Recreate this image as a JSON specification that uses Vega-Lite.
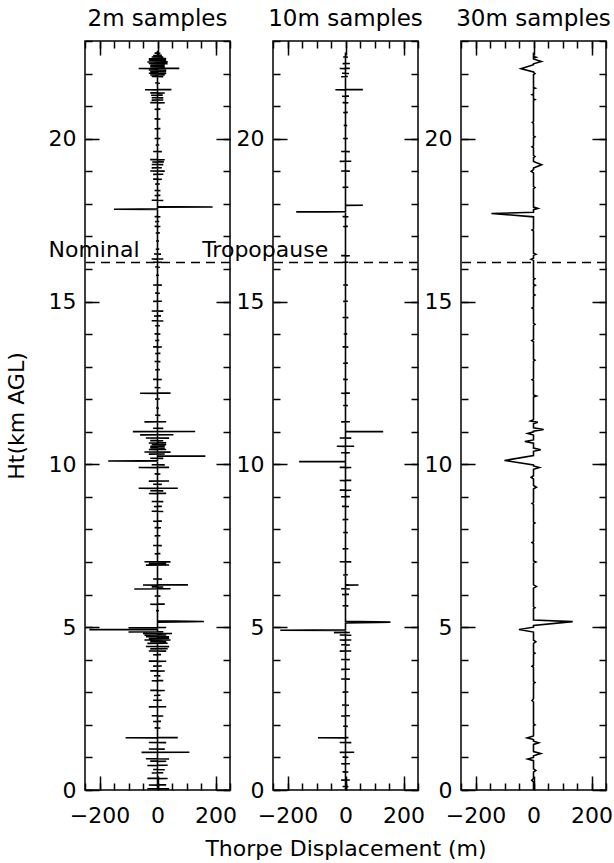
{
"$schema": "https://vega.github.io/schema/vega-lite/v6.json",
"padding": {"left": 4, "top": 7, "right": 0, "bottom": 0},
"bounds": "flush",
"spacing": 43,
"config": {
  "font": "DejaVu Sans",
  "view": {"stroke": "black", "strokeWidth": 1.5},
  "axis": {"labelFont": "DejaVu Sans", "labelFontSize": 22, "labelColor": "black", "titleFont": "DejaVu Sans", "titleFontSize": 22, "titleFontWeight": "normal", "titleColor": "black", "tickColor": "black", "tickWidth": 1.5, "domain": false, "grid": false, "labelOverlap": false, "labelFlush": false, "labelBound": false},
  "title": {"font": "DejaVu Sans", "fontSize": 23, "fontWeight": "normal", "color": "black", "offset": 9, "frame": "group", "anchor": "middle"}
},
"datasets": {
"d2": [
{"h":0,"d":0},
{"h":0.03,"d":0},{"h":0.034,"d":40},{"h":0.038,"d":-35},{"h":0.042,"d":0},
{"h":0.15,"d":0},{"h":0.154,"d":-30},{"h":0.158,"d":30},{"h":0.162,"d":0},
{"h":0.35,"d":0},{"h":0.354,"d":35},{"h":0.358,"d":-35},{"h":0.362,"d":0},
{"h":0.52,"d":0},{"h":0.524,"d":-20},{"h":0.528,"d":20},{"h":0.532,"d":0},
{"h":0.62,"d":0},{"h":0.624,"d":25},{"h":0.628,"d":-15},{"h":0.632,"d":0},
{"h":0.75,"d":0},{"h":0.754,"d":-35},{"h":0.758,"d":35},{"h":0.762,"d":0},
{"h":0.88,"d":0},{"h":0.884,"d":30},{"h":0.888,"d":-25},{"h":0.892,"d":0},
{"h":0.95,"d":0},{"h":0.954,"d":40},{"h":0.958,"d":-40},{"h":0.962,"d":0},
{"h":1.15,"d":0},{"h":1.154,"d":-55},{"h":1.158,"d":110},{"h":1.162,"d":0},
{"h":1.25,"d":0},{"h":1.254,"d":25},{"h":1.258,"d":-30},{"h":1.262,"d":0},
{"h":1.45,"d":0},{"h":1.454,"d":30},{"h":1.458,"d":-30},{"h":1.462,"d":0},
{"h":1.6,"d":0},{"h":1.604,"d":-110},{"h":1.608,"d":70},{"h":1.612,"d":0},
{"h":1.9,"d":0},{"h":1.904,"d":10},{"h":1.908,"d":-10},{"h":1.912,"d":0},
{"h":2.1,"d":0},{"h":2.104,"d":-15},{"h":2.108,"d":12},{"h":2.112,"d":0},
{"h":2.27,"d":0},{"h":2.274,"d":20},{"h":2.278,"d":-20},{"h":2.282,"d":0},
{"h":2.55,"d":0},{"h":2.554,"d":-30},{"h":2.558,"d":30},{"h":2.562,"d":0},
{"h":2.75,"d":0},{"h":2.754,"d":15},{"h":2.758,"d":-15},{"h":2.762,"d":0},
{"h":2.9,"d":0},{"h":2.904,"d":-12},{"h":2.908,"d":10},{"h":2.912,"d":0},
{"h":3.05,"d":0},{"h":3.054,"d":25},{"h":3.058,"d":-25},{"h":3.062,"d":0},
{"h":3.35,"d":0},{"h":3.354,"d":-20},{"h":3.358,"d":20},{"h":3.362,"d":0},
{"h":3.5,"d":0},{"h":3.504,"d":10},{"h":3.508,"d":-12},{"h":3.512,"d":0},
{"h":3.65,"d":0},{"h":3.654,"d":25},{"h":3.658,"d":-25},{"h":3.662,"d":0},
{"h":3.8,"d":0},{"h":3.804,"d":-15},{"h":3.808,"d":15},{"h":3.812,"d":0},
{"h":3.95,"d":0},{"h":3.954,"d":30},{"h":3.958,"d":-30},{"h":3.962,"d":0},
{"h":4.15,"d":0},{"h":4.154,"d":-15},{"h":4.158,"d":12},{"h":4.162,"d":0},
{"h":4.26,"d":0},{"h":4.264,"d":30},{"h":4.268,"d":-30},{"h":4.272,"d":0},
{"h":4.33,"d":0},{"h":4.334,"d":-25},{"h":4.338,"d":35},{"h":4.342,"d":0},
{"h":4.4,"d":0},{"h":4.404,"d":40},{"h":4.408,"d":-40},{"h":4.412,"d":0},
{"h":4.5,"d":0},{"h":4.504,"d":-35},{"h":4.508,"d":35},{"h":4.512,"d":0},
{"h":4.55,"d":0},{"h":4.554,"d":30},{"h":4.558,"d":-25},{"h":4.562,"d":0},
{"h":4.6,"d":0},{"h":4.604,"d":45},{"h":4.608,"d":-45},{"h":4.612,"d":0},
{"h":4.65,"d":0},{"h":4.654,"d":-30},{"h":4.658,"d":40},{"h":4.662,"d":0},
{"h":4.7,"d":0},{"h":4.704,"d":40},{"h":4.708,"d":-40},{"h":4.712,"d":0},
{"h":4.75,"d":0},{"h":4.754,"d":-45},{"h":4.758,"d":30},{"h":4.762,"d":0},
{"h":4.8,"d":0},{"h":4.804,"d":50},{"h":4.808,"d":-50},{"h":4.812,"d":0},
{"h":4.85,"d":0},{"h":4.854,"d":-100},{"h":4.858,"d":20},{"h":4.862,"d":0},
{"h":4.92,"d":0},{"h":4.924,"d":-235},{"h":4.928,"d":-100},{"h":4.932,"d":0},
{"h":4.98,"d":0},{"h":4.984,"d":-100},{"h":4.988,"d":30},{"h":4.992,"d":0},
{"h":5.15,"d":0},{"h":5.165,"d":120},{"h":5.175,"d":160},{"h":5.185,"d":60},{"h":5.195,"d":0},
{"h":5.5,"d":0},{"h":5.504,"d":5},{"h":5.508,"d":-5},{"h":5.512,"d":0},
{"h":5.7,"d":0},{"h":5.704,"d":-25},{"h":5.708,"d":25},{"h":5.712,"d":0},
{"h":5.95,"d":0},{"h":5.954,"d":10},{"h":5.958,"d":-10},{"h":5.962,"d":0},
{"h":6.17,"d":0},{"h":6.174,"d":-80},{"h":6.178,"d":45},{"h":6.182,"d":0},
{"h":6.23,"d":0},{"h":6.234,"d":20},{"h":6.238,"d":-20},{"h":6.242,"d":0},
{"h":6.29,"d":0},{"h":6.294,"d":-50},{"h":6.298,"d":105},{"h":6.302,"d":0},
{"h":6.47,"d":0},{"h":6.474,"d":15},{"h":6.478,"d":-15},{"h":6.482,"d":0},
{"h":6.9,"d":0},{"h":6.904,"d":-40},{"h":6.908,"d":40},{"h":6.912,"d":0},
{"h":6.95,"d":0},{"h":6.954,"d":30},{"h":6.958,"d":-30},{"h":6.962,"d":0},
{"h":7.0,"d":0},{"h":7.004,"d":45},{"h":7.008,"d":-45},{"h":7.012,"d":0},
{"h":7.25,"d":0},{"h":7.254,"d":-10},{"h":7.258,"d":10},{"h":7.262,"d":0},
{"h":7.5,"d":0},{"h":7.504,"d":15},{"h":7.508,"d":-15},{"h":7.512,"d":0},
{"h":7.8,"d":0},{"h":7.804,"d":-10},{"h":7.808,"d":10},{"h":7.812,"d":0},
{"h":8.05,"d":0},{"h":8.054,"d":12},{"h":8.058,"d":-10},{"h":8.062,"d":0},
{"h":8.25,"d":0},{"h":8.254,"d":-15},{"h":8.258,"d":15},{"h":8.262,"d":0},
{"h":8.55,"d":0},{"h":8.554,"d":20},{"h":8.558,"d":-20},{"h":8.562,"d":0},
{"h":8.7,"d":0},{"h":8.704,"d":-12},{"h":8.708,"d":15},{"h":8.712,"d":0},
{"h":8.85,"d":0},{"h":8.854,"d":20},{"h":8.858,"d":-20},{"h":8.862,"d":0},
{"h":9.1,"d":0},{"h":9.104,"d":-30},{"h":9.108,"d":30},{"h":9.112,"d":0},
{"h":9.18,"d":0},{"h":9.184,"d":20},{"h":9.188,"d":-25},{"h":9.192,"d":0},
{"h":9.26,"d":0},{"h":9.264,"d":-65},{"h":9.268,"d":70},{"h":9.272,"d":0},
{"h":9.38,"d":0},{"h":9.384,"d":15},{"h":9.388,"d":-15},{"h":9.392,"d":0},
{"h":9.48,"d":0},{"h":9.484,"d":-30},{"h":9.488,"d":40},{"h":9.492,"d":0},
{"h":9.7,"d":0},{"h":9.704,"d":10},{"h":9.708,"d":-10},{"h":9.712,"d":0},
{"h":9.9,"d":0},{"h":9.904,"d":-65},{"h":9.908,"d":40},{"h":9.912,"d":0},
{"h":9.98,"d":0},{"h":9.984,"d":25},{"h":9.988,"d":-20},{"h":9.992,"d":0},
{"h":10.1,"d":0},{"h":10.104,"d":-170},{"h":10.108,"d":-60},{"h":10.112,"d":0},
{"h":10.18,"d":0},{"h":10.184,"d":20},{"h":10.188,"d":-25},{"h":10.192,"d":0},
{"h":10.25,"d":0},{"h":10.254,"d":165},{"h":10.258,"d":60},{"h":10.262,"d":0},
{"h":10.31,"d":0},{"h":10.314,"d":-30},{"h":10.318,"d":25},{"h":10.322,"d":0},
{"h":10.37,"d":0},{"h":10.374,"d":45},{"h":10.378,"d":-45},{"h":10.382,"d":0},
{"h":10.45,"d":0},{"h":10.454,"d":-30},{"h":10.458,"d":30},{"h":10.462,"d":0},
{"h":10.5,"d":0},{"h":10.504,"d":25},{"h":10.508,"d":-25},{"h":10.512,"d":0},
{"h":10.55,"d":0},{"h":10.554,"d":-25},{"h":10.558,"d":25},{"h":10.562,"d":0},
{"h":10.6,"d":0},{"h":10.604,"d":30},{"h":10.608,"d":-20},{"h":10.612,"d":0},
{"h":10.65,"d":0},{"h":10.654,"d":-30},{"h":10.658,"d":30},{"h":10.662,"d":0},
{"h":10.72,"d":0},{"h":10.724,"d":20},{"h":10.728,"d":-25},{"h":10.732,"d":0},
{"h":10.8,"d":0},{"h":10.804,"d":40},{"h":10.808,"d":-40},{"h":10.812,"d":0},
{"h":10.9,"d":0},{"h":10.904,"d":-60},{"h":10.908,"d":55},{"h":10.912,"d":0},
{"h":11.0,"d":0},{"h":11.004,"d":-85},{"h":11.008,"d":130},{"h":11.012,"d":0},
{"h":11.1,"d":0},{"h":11.104,"d":20},{"h":11.108,"d":-15},{"h":11.112,"d":0},
{"h":11.3,"d":0},{"h":11.304,"d":-45},{"h":11.308,"d":30},{"h":11.312,"d":0},
{"h":11.5,"d":0},{"h":11.504,"d":10},{"h":11.508,"d":-8},{"h":11.512,"d":0},
{"h":11.72,"d":0},{"h":11.724,"d":5},{"h":11.728,"d":-5},{"h":11.732,"d":0},
{"h":12.0,"d":0},{"h":12.004,"d":-8},{"h":12.008,"d":8},{"h":12.012,"d":0},
{"h":12.18,"d":0},{"h":12.184,"d":-60},{"h":12.188,"d":45},{"h":12.192,"d":0},
{"h":12.35,"d":0},{"h":12.354,"d":10},{"h":12.358,"d":-10},{"h":12.362,"d":0},
{"h":12.6,"d":0},{"h":12.604,"d":15},{"h":12.608,"d":-15},{"h":12.612,"d":0},
{"h":12.9,"d":0},{"h":12.904,"d":-8},{"h":12.908,"d":8},{"h":12.912,"d":0},
{"h":13.15,"d":0},{"h":13.154,"d":10},{"h":13.158,"d":-10},{"h":13.162,"d":0},
{"h":13.4,"d":0},{"h":13.404,"d":-8},{"h":13.408,"d":10},{"h":13.412,"d":0},
{"h":13.6,"d":0},{"h":13.604,"d":15},{"h":13.608,"d":-15},{"h":13.612,"d":0},
{"h":13.8,"d":0},{"h":13.804,"d":-8},{"h":13.808,"d":6},{"h":13.812,"d":0},
{"h":14.0,"d":0},{"h":14.004,"d":10},{"h":14.008,"d":-10},{"h":14.012,"d":0},
{"h":14.25,"d":0},{"h":14.254,"d":-8},{"h":14.258,"d":8},{"h":14.262,"d":0},
{"h":14.4,"d":0},{"h":14.404,"d":20},{"h":14.408,"d":-20},{"h":14.412,"d":0},
{"h":14.55,"d":0},{"h":14.554,"d":-12},{"h":14.558,"d":12},{"h":14.562,"d":0},
{"h":14.7,"d":0},{"h":14.704,"d":20},{"h":14.708,"d":-20},{"h":14.712,"d":0},
{"h":15.0,"d":0},{"h":15.004,"d":-15},{"h":15.008,"d":15},{"h":15.012,"d":0},
{"h":15.25,"d":0},{"h":15.254,"d":8},{"h":15.258,"d":-8},{"h":15.262,"d":0},
{"h":15.5,"d":0},{"h":15.504,"d":15},{"h":15.508,"d":-15},{"h":15.512,"d":0},
{"h":15.8,"d":0},{"h":15.804,"d":-5},{"h":15.808,"d":5},{"h":15.812,"d":0},
{"h":16.05,"d":0},{"h":16.054,"d":8},{"h":16.058,"d":-8},{"h":16.062,"d":0},
{"h":16.2,"d":0},{"h":16.204,"d":15},{"h":16.208,"d":-15},{"h":16.212,"d":0},
{"h":16.3,"d":0},{"h":16.304,"d":-20},{"h":16.308,"d":20},{"h":16.312,"d":0},
{"h":16.45,"d":0},{"h":16.454,"d":12},{"h":16.458,"d":-12},{"h":16.462,"d":0},
{"h":16.6,"d":0},{"h":16.604,"d":-6},{"h":16.608,"d":6},{"h":16.612,"d":0},
{"h":16.85,"d":0},{"h":16.854,"d":5},{"h":16.858,"d":-5},{"h":16.862,"d":0},
{"h":17.1,"d":0},{"h":17.104,"d":-6},{"h":17.108,"d":8},{"h":17.112,"d":0},
{"h":17.3,"d":0},{"h":17.304,"d":10},{"h":17.308,"d":-10},{"h":17.312,"d":0},
{"h":17.45,"d":0},{"h":17.454,"d":-8},{"h":17.458,"d":6},{"h":17.462,"d":0},
{"h":17.6,"d":0},{"h":17.604,"d":10},{"h":17.608,"d":-10},{"h":17.612,"d":0},
{"h":17.83,"d":0},{"h":17.834,"d":-150},{"h":17.838,"d":-60},{"h":17.842,"d":0},
{"h":17.9,"d":0},{"h":17.904,"d":190},{"h":17.908,"d":80},{"h":17.912,"d":0},
{"h":18.1,"d":0},{"h":18.104,"d":20},{"h":18.108,"d":-20},{"h":18.112,"d":0},
{"h":18.25,"d":0},{"h":18.254,"d":-10},{"h":18.258,"d":10},{"h":18.262,"d":0},
{"h":18.4,"d":0},{"h":18.404,"d":10},{"h":18.408,"d":-10},{"h":18.412,"d":0},
{"h":18.6,"d":0},{"h":18.604,"d":-8},{"h":18.608,"d":8},{"h":18.612,"d":0},
{"h":18.75,"d":0},{"h":18.754,"d":15},{"h":18.758,"d":-15},{"h":18.762,"d":0},
{"h":18.9,"d":0},{"h":18.904,"d":-15},{"h":18.908,"d":20},{"h":18.912,"d":0},
{"h":19.0,"d":0},{"h":19.004,"d":25},{"h":19.008,"d":-25},{"h":19.012,"d":0},
{"h":19.1,"d":0},{"h":19.104,"d":-20},{"h":19.108,"d":15},{"h":19.112,"d":0},
{"h":19.2,"d":0},{"h":19.204,"d":20},{"h":19.208,"d":-20},{"h":19.212,"d":0},
{"h":19.28,"d":0},{"h":19.284,"d":-18},{"h":19.288,"d":22},{"h":19.292,"d":0},
{"h":19.35,"d":0},{"h":19.354,"d":25},{"h":19.358,"d":-25},{"h":19.362,"d":0},
{"h":19.6,"d":0},{"h":19.604,"d":15},{"h":19.608,"d":-15},{"h":19.612,"d":0},
{"h":19.8,"d":0},{"h":19.804,"d":-6},{"h":19.808,"d":6},{"h":19.812,"d":0},
{"h":20.0,"d":0},{"h":20.004,"d":10},{"h":20.008,"d":-10},{"h":20.012,"d":0},
{"h":20.3,"d":0},{"h":20.304,"d":-10},{"h":20.308,"d":10},{"h":20.312,"d":0},
{"h":20.6,"d":0},{"h":20.604,"d":10},{"h":20.608,"d":-10},{"h":20.612,"d":0},
{"h":20.9,"d":0},{"h":20.904,"d":-10},{"h":20.908,"d":10},{"h":20.912,"d":0},
{"h":21.1,"d":0},{"h":21.104,"d":25},{"h":21.108,"d":-25},{"h":21.112,"d":0},
{"h":21.18,"d":0},{"h":21.184,"d":-20},{"h":21.188,"d":20},{"h":21.192,"d":0},
{"h":21.25,"d":0},{"h":21.254,"d":20},{"h":21.258,"d":-20},{"h":21.262,"d":0},
{"h":21.33,"d":0},{"h":21.334,"d":-22},{"h":21.338,"d":18},{"h":21.342,"d":0},
{"h":21.4,"d":0},{"h":21.404,"d":25},{"h":21.408,"d":-25},{"h":21.412,"d":0},
{"h":21.5,"d":0},{"h":21.504,"d":-43},{"h":21.508,"d":48},{"h":21.512,"d":0},
{"h":21.7,"d":0},{"h":21.704,"d":8},{"h":21.708,"d":-8},{"h":21.712,"d":0},
{"h":21.9,"d":0},{"h":21.904,"d":20},{"h":21.908,"d":-20},{"h":21.912,"d":0},
{"h":21.95,"d":0},{"h":21.954,"d":-25},{"h":21.958,"d":25},{"h":21.962,"d":0},
{"h":22.0,"d":0},{"h":22.004,"d":30},{"h":22.008,"d":-30},{"h":22.012,"d":0},
{"h":22.05,"d":0},{"h":22.054,"d":-25},{"h":22.058,"d":30},{"h":22.062,"d":0},
{"h":22.1,"d":0},{"h":22.104,"d":30},{"h":22.108,"d":-30},{"h":22.112,"d":0},
{"h":22.15,"d":0},{"h":22.154,"d":-65},{"h":22.158,"d":75},{"h":22.162,"d":0},
{"h":22.2,"d":0},{"h":22.204,"d":25},{"h":22.208,"d":-25},{"h":22.212,"d":0},
{"h":22.25,"d":0},{"h":22.254,"d":-25},{"h":22.258,"d":25},{"h":22.262,"d":0},
{"h":22.3,"d":0},{"h":22.304,"d":35},{"h":22.308,"d":-30},{"h":22.312,"d":0},
{"h":22.35,"d":0},{"h":22.354,"d":-35},{"h":22.358,"d":35},{"h":22.362,"d":0},
{"h":22.4,"d":0},{"h":22.404,"d":30},{"h":22.408,"d":-30},{"h":22.412,"d":0},
{"h":22.45,"d":0},{"h":22.454,"d":-30},{"h":22.458,"d":30},{"h":22.462,"d":0},
{"h":22.5,"d":0},{"h":22.504,"d":20},{"h":22.508,"d":-20},{"h":22.512,"d":0},
{"h":22.55,"d":0},{"h":22.554,"d":-15},{"h":22.558,"d":15},{"h":22.562,"d":0},
{"h":22.62,"d":0},{"h":22.624,"d":10},{"h":22.628,"d":-10},{"h":22.632,"d":0},
{"h":22.7,"d":0}
],
"d10": [
{"h":0,"d":0},
{"h":0.1,"d":0},{"h":0.104,"d":10},{"h":0.108,"d":-10},{"h":0.112,"d":0},
{"h":0.3,"d":0},{"h":0.304,"d":-15},{"h":0.308,"d":15},{"h":0.312,"d":0},
{"h":0.55,"d":0},{"h":0.554,"d":10},{"h":0.558,"d":-10},{"h":0.562,"d":0},
{"h":0.8,"d":0},{"h":0.804,"d":-15},{"h":0.808,"d":15},{"h":0.812,"d":0},
{"h":1.0,"d":0},{"h":1.004,"d":10},{"h":1.008,"d":-10},{"h":1.012,"d":0},
{"h":1.15,"d":0},{"h":1.154,"d":-20},{"h":1.158,"d":30},{"h":1.162,"d":0},
{"h":1.45,"d":0},{"h":1.454,"d":20},{"h":1.458,"d":-20},{"h":1.462,"d":0},
{"h":1.6,"d":0},{"h":1.604,"d":-95},{"h":1.608,"d":10},{"h":1.612,"d":0},
{"h":1.95,"d":0},{"h":1.954,"d":8},{"h":1.958,"d":-8},{"h":1.962,"d":0},
{"h":2.27,"d":0},{"h":2.274,"d":-15},{"h":2.278,"d":15},{"h":2.282,"d":0},
{"h":2.6,"d":0},{"h":2.604,"d":12},{"h":2.608,"d":-12},{"h":2.612,"d":0},
{"h":3.0,"d":0},{"h":3.004,"d":-10},{"h":3.008,"d":10},{"h":3.012,"d":0},
{"h":3.4,"d":0},{"h":3.404,"d":15},{"h":3.408,"d":-15},{"h":3.412,"d":0},
{"h":3.7,"d":0},{"h":3.704,"d":-15},{"h":3.708,"d":15},{"h":3.712,"d":0},
{"h":4.0,"d":0},{"h":4.004,"d":15},{"h":4.008,"d":-15},{"h":4.012,"d":0},
{"h":4.26,"d":0},{"h":4.264,"d":-20},{"h":4.268,"d":20},{"h":4.272,"d":0},
{"h":4.45,"d":0},{"h":4.454,"d":15},{"h":4.458,"d":-15},{"h":4.462,"d":0},
{"h":4.6,"d":0},{"h":4.604,"d":-20},{"h":4.608,"d":20},{"h":4.612,"d":0},
{"h":4.75,"d":0},{"h":4.754,"d":20},{"h":4.758,"d":-20},{"h":4.762,"d":0},
{"h":4.83,"d":0},{"h":4.834,"d":-40},{"h":4.838,"d":15},{"h":4.842,"d":0},
{"h":4.9,"d":0},{"h":4.904,"d":-225},{"h":4.908,"d":-120},{"h":4.912,"d":0},
{"h":5.13,"d":0},{"h":5.145,"d":110},{"h":5.155,"d":155},{"h":5.17,"d":50},{"h":5.18,"d":0},
{"h":5.65,"d":0},{"h":5.654,"d":10},{"h":5.658,"d":-10},{"h":5.662,"d":0},
{"h":6.0,"d":0},{"h":6.004,"d":-12},{"h":6.008,"d":12},{"h":6.012,"d":0},
{"h":6.17,"d":0},{"h":6.174,"d":15},{"h":6.178,"d":-15},{"h":6.182,"d":0},
{"h":6.29,"d":0},{"h":6.294,"d":45},{"h":6.298,"d":10},{"h":6.302,"d":0},
{"h":6.6,"d":0},{"h":6.604,"d":-8},{"h":6.608,"d":8},{"h":6.612,"d":0},
{"h":7.0,"d":0},{"h":7.004,"d":20},{"h":7.008,"d":-20},{"h":7.012,"d":0},
{"h":7.4,"d":0},{"h":7.404,"d":-10},{"h":7.408,"d":10},{"h":7.412,"d":0},
{"h":7.9,"d":0},{"h":7.904,"d":8},{"h":7.908,"d":-8},{"h":7.912,"d":0},
{"h":8.3,"d":0},{"h":8.304,"d":-10},{"h":8.308,"d":10},{"h":8.312,"d":0},
{"h":8.7,"d":0},{"h":8.704,"d":12},{"h":8.708,"d":-12},{"h":8.712,"d":0},
{"h":9.0,"d":0},{"h":9.004,"d":-15},{"h":9.008,"d":15},{"h":9.012,"d":0},
{"h":9.2,"d":0},{"h":9.204,"d":20},{"h":9.208,"d":-20},{"h":9.212,"d":0},
{"h":9.5,"d":0},{"h":9.504,"d":-20},{"h":9.508,"d":20},{"h":9.512,"d":0},
{"h":9.9,"d":0},{"h":9.904,"d":20},{"h":9.908,"d":-20},{"h":9.912,"d":0},
{"h":10.08,"d":0},{"h":10.084,"d":-160},{"h":10.088,"d":-60},{"h":10.092,"d":0},
{"h":10.35,"d":0},{"h":10.354,"d":15},{"h":10.358,"d":-15},{"h":10.362,"d":0},
{"h":10.55,"d":0},{"h":10.554,"d":-30},{"h":10.558,"d":30},{"h":10.562,"d":0},
{"h":10.8,"d":0},{"h":10.804,"d":20},{"h":10.808,"d":-20},{"h":10.812,"d":0},
{"h":11.0,"d":0},{"h":11.004,"d":130},{"h":11.008,"d":40},{"h":11.012,"d":0},
{"h":11.3,"d":0},{"h":11.304,"d":-15},{"h":11.308,"d":15},{"h":11.312,"d":0},
{"h":11.8,"d":0},{"h":11.804,"d":8},{"h":11.808,"d":-8},{"h":11.812,"d":0},
{"h":12.18,"d":0},{"h":12.184,"d":-15},{"h":12.188,"d":15},{"h":12.192,"d":0},
{"h":12.6,"d":0},{"h":12.604,"d":8},{"h":12.608,"d":-8},{"h":12.612,"d":0},
{"h":13.1,"d":0},{"h":13.104,"d":-8},{"h":13.108,"d":8},{"h":13.112,"d":0},
{"h":13.6,"d":0},{"h":13.604,"d":10},{"h":13.608,"d":-10},{"h":13.612,"d":0},
{"h":14.0,"d":0},{"h":14.004,"d":-6},{"h":14.008,"d":6},{"h":14.012,"d":0},
{"h":14.5,"d":0},{"h":14.504,"d":10},{"h":14.508,"d":-10},{"h":14.512,"d":0},
{"h":15.0,"d":0},{"h":15.004,"d":-8},{"h":15.008,"d":8},{"h":15.012,"d":0},
{"h":15.5,"d":0},{"h":15.504,"d":8},{"h":15.508,"d":-8},{"h":15.512,"d":0},
{"h":16.2,"d":0},{"h":16.204,"d":-10},{"h":16.208,"d":10},{"h":16.212,"d":0},
{"h":16.4,"d":0},{"h":16.404,"d":15},{"h":16.408,"d":-15},{"h":16.412,"d":0},
{"h":17.3,"d":0},{"h":17.304,"d":-8},{"h":17.308,"d":8},{"h":17.312,"d":0},
{"h":17.6,"d":0},{"h":17.604,"d":10},{"h":17.608,"d":-10},{"h":17.612,"d":0},
{"h":17.75,"d":0},{"h":17.754,"d":-170},{"h":17.758,"d":-70},{"h":17.762,"d":0},
{"h":17.95,"d":0},{"h":17.954,"d":60},{"h":17.958,"d":20},{"h":17.962,"d":0},
{"h":18.5,"d":0},{"h":18.504,"d":-10},{"h":18.508,"d":10},{"h":18.512,"d":0},
{"h":19.0,"d":0},{"h":19.004,"d":15},{"h":19.008,"d":-15},{"h":19.012,"d":0},
{"h":19.3,"d":0},{"h":19.304,"d":-20},{"h":19.308,"d":20},{"h":19.312,"d":0},
{"h":19.6,"d":0},{"h":19.604,"d":15},{"h":19.608,"d":-15},{"h":19.612,"d":0},
{"h":20.0,"d":0},{"h":20.004,"d":-8},{"h":20.008,"d":8},{"h":20.012,"d":0},
{"h":20.4,"d":0},{"h":20.404,"d":6},{"h":20.408,"d":-6},{"h":20.412,"d":0},
{"h":20.8,"d":0},{"h":20.804,"d":-8},{"h":20.808,"d":8},{"h":20.812,"d":0},
{"h":21.1,"d":0},{"h":21.104,"d":10},{"h":21.108,"d":-10},{"h":21.112,"d":0},
{"h":21.3,"d":0},{"h":21.304,"d":-12},{"h":21.308,"d":12},{"h":21.312,"d":0},
{"h":21.5,"d":0},{"h":21.504,"d":-35},{"h":21.508,"d":60},{"h":21.512,"d":0},
{"h":21.9,"d":0},{"h":21.904,"d":-15},{"h":21.908,"d":8},{"h":21.912,"d":0},
{"h":22.0,"d":0},{"h":22.004,"d":12},{"h":22.008,"d":-12},{"h":22.012,"d":0},
{"h":22.15,"d":0},{"h":22.154,"d":-20},{"h":22.158,"d":15},{"h":22.162,"d":0},
{"h":22.3,"d":0},{"h":22.304,"d":-10},{"h":22.308,"d":15},{"h":22.312,"d":0},
{"h":22.5,"d":0},{"h":22.504,"d":8},{"h":22.508,"d":-8},{"h":22.512,"d":0},
{"h":22.65,"d":0}
],
"d30": [
{"h":0,"d":0},
{"h":0.25,"d":0},{"h":0.3,"d":-6},{"h":0.35,"d":0},
{"h":0.55,"d":0},{"h":0.6,"d":8},{"h":0.65,"d":0},
{"h":0.9,"d":0},{"h":0.95,"d":-20},{"h":1.0,"d":0},
{"h":1.05,"d":0},{"h":1.12,"d":25},{"h":1.18,"d":0},
{"h":1.4,"d":0},{"h":1.45,"d":18},{"h":1.5,"d":0},
{"h":1.55,"d":0},{"h":1.6,"d":-22},{"h":1.66,"d":0},
{"h":1.98,"d":0},{"h":2.0,"d":5},{"h":2.03,"d":0},
{"h":2.7,"d":0},{"h":2.75,"d":-5},{"h":2.8,"d":0},
{"h":3.27,"d":0},{"h":3.3,"d":5},{"h":3.33,"d":0},
{"h":3.77,"d":0},{"h":3.8,"d":-5},{"h":3.83,"d":0},
{"h":4.17,"d":0},{"h":4.2,"d":5},{"h":4.23,"d":0},
{"h":4.5,"d":0},{"h":4.55,"d":8},{"h":4.6,"d":0},
{"h":4.85,"d":0},{"h":4.93,"d":-50},{"h":5.0,"d":0},
{"h":5.05,"d":0},{"h":5.17,"d":135},{"h":5.22,"d":0},
{"h":5.57,"d":0},{"h":5.6,"d":5},{"h":5.63,"d":0},
{"h":6.2,"d":0},{"h":6.25,"d":10},{"h":6.3,"d":0},
{"h":6.97,"d":0},{"h":7.0,"d":8},{"h":7.03,"d":0},
{"h":7.57,"d":0},{"h":7.6,"d":-5},{"h":7.63,"d":0},
{"h":8.17,"d":0},{"h":8.2,"d":5},{"h":8.23,"d":0},
{"h":8.77,"d":0},{"h":8.8,"d":-5},{"h":8.83,"d":0},
{"h":9.25,"d":0},{"h":9.3,"d":10},{"h":9.35,"d":0},
{"h":9.55,"d":0},{"h":9.6,"d":-8},{"h":9.65,"d":0},
{"h":9.85,"d":0},{"h":9.9,"d":20},{"h":9.95,"d":0},
{"h":9.98,"d":0},{"h":10.12,"d":-100},{"h":10.27,"d":0},
{"h":10.4,"d":0},{"h":10.45,"d":25},{"h":10.5,"d":0},
{"h":10.65,"d":0},{"h":10.7,"d":-30},{"h":10.75,"d":0},
{"h":10.9,"d":0},{"h":10.95,"d":-20},{"h":11.0,"d":0},
{"h":11.02,"d":0},{"h":11.07,"d":35},{"h":11.12,"d":0},
{"h":11.25,"d":0},{"h":11.29,"d":15},{"h":11.33,"d":-10},{"h":11.37,"d":0},
{"h":12.07,"d":0},{"h":12.1,"d":10},{"h":12.13,"d":0},
{"h":12.57,"d":0},{"h":12.6,"d":-5},{"h":12.63,"d":0},
{"h":13.17,"d":0},{"h":13.2,"d":5},{"h":13.23,"d":0},
{"h":13.77,"d":0},{"h":13.8,"d":-6},{"h":13.83,"d":0},
{"h":14.27,"d":0},{"h":14.3,"d":5},{"h":14.33,"d":0},
{"h":14.77,"d":0},{"h":14.8,"d":-5},{"h":14.83,"d":0},
{"h":15.17,"d":0},{"h":15.2,"d":5},{"h":15.23,"d":0},
{"h":15.47,"d":0},{"h":15.5,"d":6},{"h":15.53,"d":0},
{"h":15.67,"d":0},{"h":15.7,"d":5},{"h":15.73,"d":0},
{"h":16.27,"d":0},{"h":16.3,"d":-8},{"h":16.33,"d":0},
{"h":16.42,"d":0},{"h":16.45,"d":8},{"h":16.48,"d":0},
{"h":17.17,"d":0},{"h":17.2,"d":-5},{"h":17.23,"d":0},
{"h":17.6,"d":0},{"h":17.705,"d":-145},{"h":17.74,"d":0},
{"h":17.82,"d":0},{"h":17.86,"d":15},{"h":17.9,"d":0},
{"h":18.47,"d":0},{"h":18.5,"d":5},{"h":18.53,"d":0},
{"h":18.95,"d":0},{"h":19.0,"d":-8},{"h":19.05,"d":0},
{"h":19.1,"d":0},{"h":19.2,"d":28},{"h":19.3,"d":0},
{"h":19.42,"d":0},{"h":19.45,"d":5},{"h":19.48,"d":0},
{"h":19.72,"d":0},{"h":19.75,"d":-5},{"h":19.78,"d":0},
{"h":20.03,"d":0},{"h":20.06,"d":5},{"h":20.09,"d":0},
{"h":20.47,"d":0},{"h":20.5,"d":-4},{"h":20.53,"d":0},
{"h":21.18,"d":0},{"h":21.2,"d":5},{"h":21.22,"d":0},
{"h":21.33,"d":0},{"h":21.35,"d":-5},{"h":21.37,"d":0},
{"h":21.53,"d":0},{"h":21.55,"d":6},{"h":21.57,"d":0},
{"h":21.97,"d":0},{"h":22.0,"d":5},{"h":22.03,"d":0},
{"h":22.05,"d":0},{"h":22.15,"d":-43},{"h":22.27,"d":0},
{"h":22.3,"d":0},{"h":22.37,"d":27},{"h":22.45,"d":0},
{"h":22.48,"d":0},{"h":22.5,"d":8},{"h":22.52,"d":0},
{"h":22.65,"d":0}
]
},
"hconcat": [
{
 "width": 145, "height": 749,
 "title": {"text": "2m samples"},
 "data": {"name": "d2"},
 "layer": [
  {"mark": {"type": "line", "color": "black", "strokeWidth": 1.6, "clip": true},
   "encoding": {
    "x": {"field": "d", "type": "quantitative", "scale": {"domain": [-250, 250], "nice": false, "zero": false},
          "axis": {"orient": "bottom", "values": [-200, 0, 200], "ticks": false, "labelPadding": 15, "title": null}},
    "y": {"field": "h", "type": "quantitative", "scale": {"domain": [0, 23], "nice": false, "zero": false},
          "axis": {"orient": "left", "values": [0, 5, 10, 15, 20], "ticks": false, "labelPadding": 9, "minExtent": 36, "maxExtent": 36, "title": "Ht(km AGL)", "titlePadding": 21}},
    "order": {"field": "h", "type": "quantitative"}
   }},
  {"data": {"values": [{"d": 0, "h": 0}]}, "mark": {"type": "point", "opacity": 0},
   "encoding": {
    "x": {"field": "d", "type": "quantitative", "axis": {"orient": "bottom", "values": [-200, 0, 200], "labels": false, "tickSize": 14, "offset": -14, "minExtent": 0, "maxExtent": 0, "title": null}},
    "y": {"field": "h", "type": "quantitative", "axis": {"orient": "left", "values": [0, 5, 10, 15, 20], "labels": false, "tickSize": 14, "offset": -14, "minExtent": 0, "maxExtent": 0, "title": null}}}},
  {"data": {"values": [{"d": 0, "h": 0}]}, "mark": {"type": "point", "opacity": 0},
   "encoding": {
    "x": {"field": "d", "type": "quantitative", "axis": {"orient": "bottom", "values": [-250,-200,-150,-100,-50,0,50,100,150,200,250], "labels": false, "tickSize": 7, "offset": -7, "minExtent": 0, "maxExtent": 0, "title": null}},
    "y": {"field": "h", "type": "quantitative", "axis": {"orient": "left", "values": [0,1,2,3,4,5,6,7,8,9,10,11,12,13,14,15,16,17,18,19,20,21,22,23], "labels": false, "tickSize": 7, "offset": -7, "minExtent": 0, "maxExtent": 0, "title": null}}}},
  {"data": {"values": [{"d": 0, "h": 0}]}, "mark": {"type": "point", "opacity": 0},
   "encoding": {
    "x": {"field": "d", "type": "quantitative", "axis": {"orient": "top", "values": [-200, 0, 200], "labels": false, "tickSize": 14, "offset": -14, "minExtent": 0, "maxExtent": 0, "title": null}},
    "y": {"field": "h", "type": "quantitative", "axis": {"orient": "right", "values": [0, 5, 10, 15, 20], "labels": false, "tickSize": 14, "offset": -14, "minExtent": 0, "maxExtent": 0, "title": null}}}},
  {"data": {"values": [{"d": 0, "h": 0}]}, "mark": {"type": "point", "opacity": 0},
   "encoding": {
    "x": {"field": "d", "type": "quantitative", "axis": {"orient": "top", "values": [-250,-200,-150,-100,-50,0,50,100,150,200,250], "labels": false, "tickSize": 7, "offset": -7, "minExtent": 0, "maxExtent": 0, "title": null}},
    "y": {"field": "h", "type": "quantitative", "axis": {"orient": "right", "values": [0,1,2,3,4,5,6,7,8,9,10,11,12,13,14,15,16,17,18,19,20,21,22,23], "labels": false, "tickSize": 7, "offset": -7, "minExtent": 0, "maxExtent": 0, "title": null}}}},
  {"data": {"values": [{"t": 16.2}]},
   "mark": {"type": "rule", "strokeDash": [9, 6], "strokeWidth": 1.5, "color": "black"},
   "encoding": {"y": {"field": "t", "type": "quantitative", "axis": null}}},
  {"data": {"values": [{}]},
   "mark": {"type": "text", "text": "Nominal", "align": "right", "baseline": "alphabetic", "dy": -5, "fontSize": 22, "font": "DejaVu Sans", "color": "black"},
   "encoding": {"x": {"datum": -62, "type": "quantitative", "axis": null}, "y": {"datum": 16.2, "type": "quantitative", "axis": null}}},
  {"data": {"values": [{}]},
   "mark": {"type": "text", "text": "Tropopause", "align": "left", "baseline": "alphabetic", "dy": -5, "fontSize": 22, "font": "DejaVu Sans", "color": "black"},
   "encoding": {"x": {"datum": 154, "type": "quantitative", "axis": null}, "y": {"datum": 16.2, "type": "quantitative", "axis": null}}}
 ],
 "resolve": {"axis": {"x": "independent", "y": "independent"}}
},
{
 "width": 145, "height": 749,
 "title": {"text": "10m samples"},
 "data": {"name": "d10"},
 "layer": [
  {"mark": {"type": "line", "color": "black", "strokeWidth": 1.6, "clip": true},
   "encoding": {
    "x": {"field": "d", "type": "quantitative", "scale": {"domain": [-250, 250], "nice": false, "zero": false},
          "axis": {"orient": "bottom", "values": [-200, 0, 200], "ticks": false, "labelPadding": 15, "title": "Thorpe Displacement (m)", "titlePadding": 12}},
    "y": {"field": "h", "type": "quantitative", "scale": {"domain": [0, 23], "nice": false, "zero": false},
          "axis": {"orient": "left", "values": [0, 5, 10, 15, 20], "ticks": false, "labelPadding": 9, "minExtent": 36, "maxExtent": 36, "title": null}},
    "order": {"field": "h", "type": "quantitative"}
   }},
  {"data": {"values": [{"d": 0, "h": 0}]}, "mark": {"type": "point", "opacity": 0},
   "encoding": {
    "x": {"field": "d", "type": "quantitative", "axis": {"orient": "bottom", "values": [-200, 0, 200], "labels": false, "tickSize": 14, "offset": -14, "minExtent": 0, "maxExtent": 0, "title": null}},
    "y": {"field": "h", "type": "quantitative", "axis": {"orient": "left", "values": [0, 5, 10, 15, 20], "labels": false, "tickSize": 14, "offset": -14, "minExtent": 0, "maxExtent": 0, "title": null}}}},
  {"data": {"values": [{"d": 0, "h": 0}]}, "mark": {"type": "point", "opacity": 0},
   "encoding": {
    "x": {"field": "d", "type": "quantitative", "axis": {"orient": "bottom", "values": [-250,-200,-150,-100,-50,0,50,100,150,200,250], "labels": false, "tickSize": 7, "offset": -7, "minExtent": 0, "maxExtent": 0, "title": null}},
    "y": {"field": "h", "type": "quantitative", "axis": {"orient": "left", "values": [0,1,2,3,4,5,6,7,8,9,10,11,12,13,14,15,16,17,18,19,20,21,22,23], "labels": false, "tickSize": 7, "offset": -7, "minExtent": 0, "maxExtent": 0, "title": null}}}},
  {"data": {"values": [{"d": 0, "h": 0}]}, "mark": {"type": "point", "opacity": 0},
   "encoding": {
    "x": {"field": "d", "type": "quantitative", "axis": {"orient": "top", "values": [-200, 0, 200], "labels": false, "tickSize": 14, "offset": -14, "minExtent": 0, "maxExtent": 0, "title": null}},
    "y": {"field": "h", "type": "quantitative", "axis": {"orient": "right", "values": [0, 5, 10, 15, 20], "labels": false, "tickSize": 14, "offset": -14, "minExtent": 0, "maxExtent": 0, "title": null}}}},
  {"data": {"values": [{"d": 0, "h": 0}]}, "mark": {"type": "point", "opacity": 0},
   "encoding": {
    "x": {"field": "d", "type": "quantitative", "axis": {"orient": "top", "values": [-250,-200,-150,-100,-50,0,50,100,150,200,250], "labels": false, "tickSize": 7, "offset": -7, "minExtent": 0, "maxExtent": 0, "title": null}},
    "y": {"field": "h", "type": "quantitative", "axis": {"orient": "right", "values": [0,1,2,3,4,5,6,7,8,9,10,11,12,13,14,15,16,17,18,19,20,21,22,23], "labels": false, "tickSize": 7, "offset": -7, "minExtent": 0, "maxExtent": 0, "title": null}}}},
  {"data": {"values": [{"t": 16.2}]},
   "mark": {"type": "rule", "strokeDash": [9, 6], "strokeWidth": 1.5, "color": "black"},
   "encoding": {"y": {"field": "t", "type": "quantitative", "axis": null}}}
 ],
 "resolve": {"axis": {"x": "independent", "y": "independent"}}
},
{
 "width": 145, "height": 749,
 "title": {"text": "30m samples"},
 "data": {"name": "d30"},
 "layer": [
  {"mark": {"type": "line", "color": "black", "strokeWidth": 1.6, "clip": true},
   "encoding": {
    "x": {"field": "d", "type": "quantitative", "scale": {"domain": [-250, 250], "nice": false, "zero": false},
          "axis": {"orient": "bottom", "values": [-200, 0, 200], "ticks": false, "labelPadding": 15, "title": null}},
    "y": {"field": "h", "type": "quantitative", "scale": {"domain": [0, 23], "nice": false, "zero": false},
          "axis": {"orient": "left", "values": [0, 5, 10, 15, 20], "ticks": false, "labelPadding": 9, "minExtent": 36, "maxExtent": 36, "title": null}},
    "order": {"field": "h", "type": "quantitative"}
   }},
  {"data": {"values": [{"d": 0, "h": 0}]}, "mark": {"type": "point", "opacity": 0},
   "encoding": {
    "x": {"field": "d", "type": "quantitative", "axis": {"orient": "bottom", "values": [-200, 0, 200], "labels": false, "tickSize": 14, "offset": -14, "minExtent": 0, "maxExtent": 0, "title": null}},
    "y": {"field": "h", "type": "quantitative", "axis": {"orient": "left", "values": [0, 5, 10, 15, 20], "labels": false, "tickSize": 14, "offset": -14, "minExtent": 0, "maxExtent": 0, "title": null}}}},
  {"data": {"values": [{"d": 0, "h": 0}]}, "mark": {"type": "point", "opacity": 0},
   "encoding": {
    "x": {"field": "d", "type": "quantitative", "axis": {"orient": "bottom", "values": [-250,-200,-150,-100,-50,0,50,100,150,200,250], "labels": false, "tickSize": 7, "offset": -7, "minExtent": 0, "maxExtent": 0, "title": null}},
    "y": {"field": "h", "type": "quantitative", "axis": {"orient": "left", "values": [0,1,2,3,4,5,6,7,8,9,10,11,12,13,14,15,16,17,18,19,20,21,22,23], "labels": false, "tickSize": 7, "offset": -7, "minExtent": 0, "maxExtent": 0, "title": null}}}},
  {"data": {"values": [{"d": 0, "h": 0}]}, "mark": {"type": "point", "opacity": 0},
   "encoding": {
    "x": {"field": "d", "type": "quantitative", "axis": {"orient": "top", "values": [-200, 0, 200], "labels": false, "tickSize": 14, "offset": -14, "minExtent": 0, "maxExtent": 0, "title": null}},
    "y": {"field": "h", "type": "quantitative", "axis": {"orient": "right", "values": [0, 5, 10, 15, 20], "labels": false, "tickSize": 14, "offset": -14, "minExtent": 0, "maxExtent": 0, "title": null}}}},
  {"data": {"values": [{"d": 0, "h": 0}]}, "mark": {"type": "point", "opacity": 0},
   "encoding": {
    "x": {"field": "d", "type": "quantitative", "axis": {"orient": "top", "values": [-250,-200,-150,-100,-50,0,50,100,150,200,250], "labels": false, "tickSize": 7, "offset": -7, "minExtent": 0, "maxExtent": 0, "title": null}},
    "y": {"field": "h", "type": "quantitative", "axis": {"orient": "right", "values": [0,1,2,3,4,5,6,7,8,9,10,11,12,13,14,15,16,17,18,19,20,21,22,23], "labels": false, "tickSize": 7, "offset": -7, "minExtent": 0, "maxExtent": 0, "title": null}}}},
  {"data": {"values": [{"t": 16.2}]},
   "mark": {"type": "rule", "strokeDash": [9, 6], "strokeWidth": 1.5, "color": "black"},
   "encoding": {"y": {"field": "t", "type": "quantitative", "axis": null}}}
 ],
 "resolve": {"axis": {"x": "independent", "y": "independent"}}
}
]
}
